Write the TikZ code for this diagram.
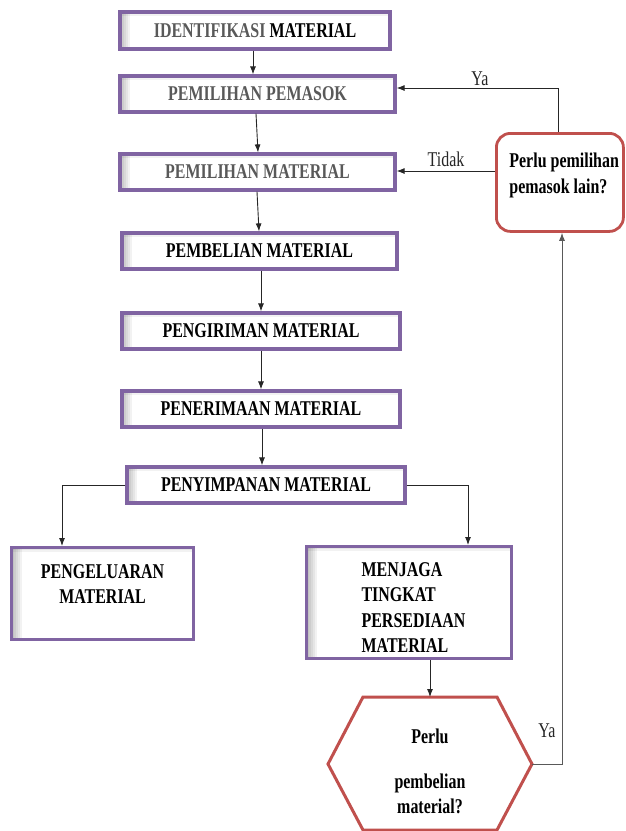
\documentclass[tikz,border=0pt]{standalone}
\usepackage{fontspec}
\setmainfont{Liberation Serif}[FakeStretch=0.76]
\usetikzlibrary{arrows.meta}
\definecolor{purp}{HTML}{8064A2}
\definecolor{redb}{HTML}{C0504D}
\definecolor{gtxt}{HTML}{595959}
\newcommand\ft{\fontsize{21}{25.3}\selectfont}
\tikzset{
  box/.style={draw=purp, line width=3.2pt, fill=white, inner sep=0pt, font=\ft\bfseries, text=black,
    path picture={
      \foreach \w in {2,4,6,8,10}{
        \fill[black, opacity=0.05]
          (path picture bounding box.north west) rectangle ([xshift=\w pt]path picture bounding box.south west);
      }
      \foreach \w in {2,4}{
        \fill[black, opacity=0.05]
          (path picture bounding box.north west) rectangle ([yshift=-\w pt]path picture bounding box.north east);
      }
    }},
  qbox/.style={draw=redb, line width=2.8pt, fill=white, rounded corners=14pt, inner sep=0pt, font=\ft\bfseries},
  arr/.style={draw=black!85, line width=0.9pt, -{Latex[length=8pt,width=6pt]}},
  lbl/.style={font=\ft, text=black!85, inner sep=0pt, anchor=base},
}
\begin{document}
\begin{tikzpicture}[x=1pt,y=-1pt]
\useasboundingbox (0,0) rectangle (625,831);
% main column
\node[box, minimum width=270pt, minimum height=37pt] (b1) at (255,30.5) {\textcolor{gtxt}{IDENTIFIKASI} MATERIAL};
\node[box, minimum width=275pt, minimum height=36pt] (b2) at (257.5,94) {\textcolor{gtxt}{PEMILIHAN PEMASOK}};
\node[box, minimum width=275pt, minimum height=36pt] (b3) at (257.5,172) {\textcolor{gtxt}{PEMILIHAN MATERIAL}};
\node[box, minimum width=275pt, minimum height=36pt] (b4) at (259.5,251) {PEMBELIAN MATERIAL};
\node[box, minimum width=278pt, minimum height=36pt] (b5) at (261,331) {PENGIRIMAN MATERIAL};
\node[box, minimum width=278pt, minimum height=36pt] (b6) at (261,409) {PENERIMAAN MATERIAL};
\node[box, minimum width=278pt, minimum height=36pt] (b7) at (266,485) {PENYIMPANAN MATERIAL};
% lower boxes
\node[box, anchor=north west] (b8) at (10,546)
  {\parbox[c][92pt][t]{182pt}{\centering\vspace*{17pt}PENGELUARAN\\MATERIAL\par}};
\node[box, anchor=north west] (b9) at (305,545)
  {\parbox[c][112pt][t]{205pt}{\raggedright\leftskip=55pt\vspace*{16pt}MENJAGA\\TINGKAT\\PERSEDIAAN\\MATERIAL\par}};
% decision (rounded)
\node[qbox, anchor=north west] (q1) at (495,132)
  {\parbox[c][98pt][t]{127pt}{\raggedright\leftskip=13pt\vspace*{20pt}Perlu pemilihan\\pemasok lain?\par}};
% hexagon decision
\draw[draw=redb, line width=3pt, fill=white, line join=miter]
  (363,697) -- (497,697) -- (532,764) -- (497,830) -- (363,830) -- (328,764) -- cycle;
\coordinate (hxT) at (430,697);
\coordinate (hxR) at (532,764);
\node[font=\ft\bfseries, align=center, inner sep=0pt, anchor=north] (hx) at (430,729)
  {Perlu\\[19pt]pembelian\\material?};
% connectors of the column
\draw[arr] (253,0 |- b1.south) -- (253,0 |- b2.north);
\draw[arr] (256,0 |- b2.south) -- (258,0 |- b3.north);
\draw[arr] (257,0 |- b3.south) -- (259,0 |- b4.north);
\draw[arr] (261,0 |- b4.south) -- (261,0 |- b5.north);
\draw[arr] (261,0 |- b5.south) -- (261,0 |- b6.north);
\draw[arr] (262,0 |- b6.south) -- (262,0 |- b7.north);
% branches
\draw[arr] (b7.west) -- (62,0 |- b7.west) -- (62,0 |- b8.north);
\draw[arr] (b7.east) -- (468,0 |- b7.east) -- (468,0 |- b9.north);
\draw[arr] (430,0 |- b9.south) -- (hxT);
% feedback loops
\draw[arr, draw=black!65] (hxR) -- (562,764) -- (562,0 |- q1.south);
\draw[arr] (558,0 |- q1.north) -- (558,88) -- (b2.east |- 0,88);
\draw[arr] (q1.west |- 0,171) -- (b3.east |- 0,171);
% labels
\node[lbl] (ya1) at (480,85) {Ya};
\node[lbl] (td) at (446,166) {Tidak};
\node[lbl] (ya2) at (547,737) {Ya};
\end{tikzpicture}
\end{document}
